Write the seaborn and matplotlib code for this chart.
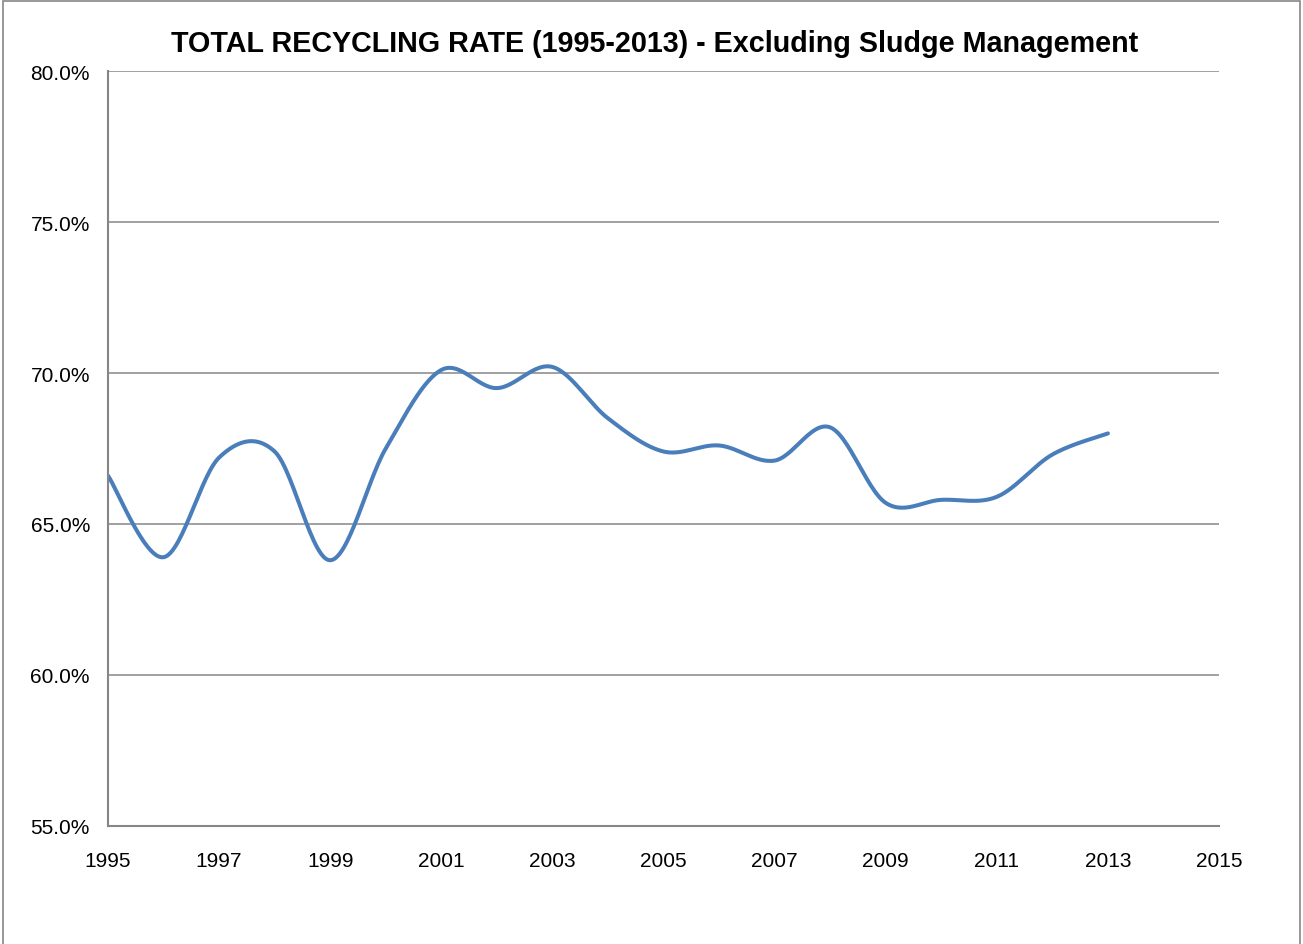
import numpy as np
import pandas as pd
import matplotlib
matplotlib.use('Agg')
import matplotlib.pyplot as plt
import matplotlib.ticker as mticker
from matplotlib.patches import Rectangle
import seaborn as sns

# yearly recycling rate (%)
years = [1995, 1996, 1997, 1998, 1999, 2000, 2001, 2002, 2003, 2004,
         2005, 2006, 2007, 2008, 2009, 2010, 2011, 2012, 2013]
rates = [66.6, 63.9, 67.2, 67.4, 63.8, 67.5, 70.1, 69.5, 70.2, 68.5,
         67.4, 67.6, 67.1, 68.2, 65.7, 65.8, 65.9, 67.3, 68.0]
title = 'TOTAL RECYCLING RATE (1995-2013) - Excluding Sludge Management'
xticks = list(range(1995, 2016, 2))
yticks = [55, 60, 65, 70, 75, 80]

# smoothed line like excel (catmull-rom between the yearly points)
def smooth(xs, ys, n=30):
    xs = np.asarray(xs, float)
    ys = np.asarray(ys, float)
    px = np.concatenate([[xs[0]], xs, [xs[-1]]])
    py = np.concatenate([[ys[0]], ys, [ys[-1]]])
    outx, outy = [], []
    for i in range(1, len(px) - 2):
        t = np.linspace(0, 1, n, endpoint=False)
        for p, out in ((px, outx), (py, outy)):
            p0, p1, p2, p3 = p[i - 1], p[i], p[i + 1], p[i + 2]
            m1 = (p2 - p0) / 2
            m2 = (p3 - p1) / 2
            h00 = 2 * t**3 - 3 * t**2 + 1
            h10 = t**3 - 2 * t**2 + t
            h01 = -2 * t**3 + 3 * t**2
            h11 = t**3 - t**2
            out.extend(h00 * p1 + h10 * m1 + h01 * p2 + h11 * m2)
    outx.append(xs[-1])
    outy.append(ys[-1])
    return np.array(outx), np.array(outy)

sx, sy = smooth(years, rates)
df = pd.DataFrame({'year': sx, 'rate': sy})

sns.set_style('white')
plt.rcParams['font.family'] = ['Liberation Sans', 'DejaVu Sans']

fig = plt.figure(figsize=(13.03, 9.45), dpi=100)
ax = fig.add_axes([108 / 1303, 1 - 827 / 945, (1219 - 108) / 1303, (827 - 72) / 945])

sns.lineplot(data=df, x='year', y='rate', ax=ax, color='#4a7ebb', lw=2.9,
             sort=False, estimator=None)

ax.set_xlim(1995, 2015)
ax.set_ylim(55, 80)
ax.set_xticks(xticks)
ax.set_yticks(yticks)
ax.yaxis.set_major_formatter(mticker.FuncFormatter(lambda v, p: '%.1f%%' % v))
ax.set_xlabel('')
ax.set_ylabel('')
ax.grid(True, axis='y', color='#868686', lw=1.1)
ax.set_axisbelow(True)
for s in ['top', 'right']:
    ax.spines[s].set_visible(False)
for s in ['left', 'bottom']:
    ax.spines[s].set_color('#868686')
    ax.spines[s].set_linewidth(1.5)
ax.tick_params(axis='both', direction='out', length=6, width=1.2, color='#868686',
               labelsize=15, labelcolor='black')
ax.tick_params(axis='x', pad=12)
ax.tick_params(axis='y', pad=7)

fig.text(655 / 1303, 1 - 44 / 945, title, ha='center', va='center',
         fontsize=20.7, fontweight='bold', color='black')

# outer chart border
fig.patches.append(Rectangle((3 / 1303, -0.01), 1297 / 1303, 1.01 - 2 / 945,
                             transform=fig.transFigure,
                             fill=False, edgecolor='#868686', lw=1.2))

fig.savefig('out.png', dpi=100)
